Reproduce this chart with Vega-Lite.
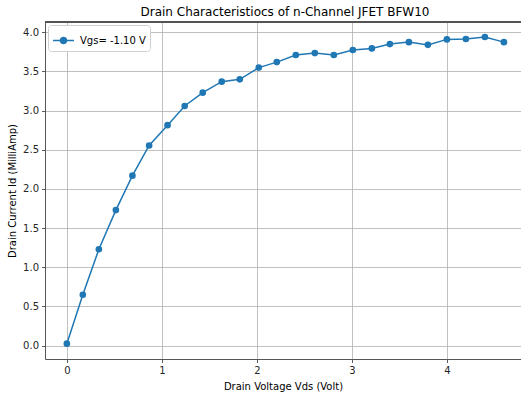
{
  "$schema": "https://vega.github.io/schema/vega-lite/v6.json",
  "width": 476,
  "height": 337,
  "autosize": {"type": "none"},
  "padding": {"left": 45, "top": 22, "right": 0, "bottom": 35},
  "background": "white",
  "title": {
    "text": "Drain Characteristiocs of n-Channel JFET BFW10",
    "font": "DejaVu Sans",
    "fontSize": 12,
    "fontWeight": "normal",
    "color": "#000000",
    "anchor": "middle",
    "dx": 2,
    "offset": 3
  },
  "config": {
    "view": {"stroke": null},
    "font": "DejaVu Sans",
    "axis": {
      "labelFont": "DejaVu Sans",
      "labelFontSize": 10,
      "labelColor": "#262626",
      "titleFont": "DejaVu Sans",
      "titleFontSize": 10,
      "titleFontWeight": "normal",
      "titleColor": "#000000",
      "domainColor": "#555555",
      "domainWidth": 1,
      "tickColor": "#333333",
      "tickSize": 3.5,
      "tickWidth": 0.8,
      "labelPadding": 3,
      "gridColor": "#b0b0b0",
      "gridWidth": 0.8,
      "gridOpacity": 1
    },
    "legend": {
      "labelFont": "DejaVu Sans",
      "labelFontSize": 10,
      "labelColor": "#000000",
      "strokeColor": "#d0d0d0",
      "fillColor": "#ffffff",
      "cornerRadius": 3,
      "padding": 4
    }
  },
  "data": {
    "values": [
      {"vds": 0.0, "id": 0.025, "series": "Vgs= -1.10 V"},
      {"vds": 0.168, "id": 0.65, "series": "Vgs= -1.10 V"},
      {"vds": 0.337, "id": 1.23, "series": "Vgs= -1.10 V"},
      {"vds": 0.516, "id": 1.73, "series": "Vgs= -1.10 V"},
      {"vds": 0.69, "id": 2.17, "series": "Vgs= -1.10 V"},
      {"vds": 0.866, "id": 2.555, "series": "Vgs= -1.10 V"},
      {"vds": 1.06, "id": 2.815, "series": "Vgs= -1.10 V"},
      {"vds": 1.24, "id": 3.06, "series": "Vgs= -1.10 V"},
      {"vds": 1.43, "id": 3.23, "series": "Vgs= -1.10 V"},
      {"vds": 1.63, "id": 3.37, "series": "Vgs= -1.10 V"},
      {"vds": 1.82, "id": 3.4, "series": "Vgs= -1.10 V"},
      {"vds": 2.02, "id": 3.55, "series": "Vgs= -1.10 V"},
      {"vds": 2.21, "id": 3.62, "series": "Vgs= -1.10 V"},
      {"vds": 2.41, "id": 3.71, "series": "Vgs= -1.10 V"},
      {"vds": 2.61, "id": 3.735, "series": "Vgs= -1.10 V"},
      {"vds": 2.81, "id": 3.71, "series": "Vgs= -1.10 V"},
      {"vds": 3.01, "id": 3.775, "series": "Vgs= -1.10 V"},
      {"vds": 3.21, "id": 3.795, "series": "Vgs= -1.10 V"},
      {"vds": 3.4, "id": 3.85, "series": "Vgs= -1.10 V"},
      {"vds": 3.6, "id": 3.875, "series": "Vgs= -1.10 V"},
      {"vds": 3.8, "id": 3.84, "series": "Vgs= -1.10 V"},
      {"vds": 4.0, "id": 3.91, "series": "Vgs= -1.10 V"},
      {"vds": 4.2, "id": 3.915, "series": "Vgs= -1.10 V"},
      {"vds": 4.4, "id": 3.94, "series": "Vgs= -1.10 V"},
      {"vds": 4.6, "id": 3.875, "series": "Vgs= -1.10 V"}
    ]
  },
  "layer": [
    {
      "mark": {
        "type": "line",
        "strokeWidth": 1.5,
        "point": {"filled": true, "size": 44, "opacity": 1}
      },
      "encoding": {
        "x": {
          "field": "vds",
          "type": "quantitative",
          "scale": {"domain": [-0.23, 4.78], "nice": false, "zero": false},
          "axis": {
            "title": "Drain Voltage Vds (Volt)",
            "values": [0, 1, 2, 3, 4],
            "format": "d",
            "titlePadding": 6
          }
        },
        "y": {
          "field": "id",
          "type": "quantitative",
          "scale": {"domain": [-0.171, 4.132], "nice": false, "zero": false},
          "axis": {
            "title": "Drain Current Id (MilliAmp)",
            "values": [0, 0.5, 1, 1.5, 2, 2.5, 3, 3.5, 4],
            "format": ".1f",
            "titlePadding": 5
          }
        },
        "color": {
          "field": "series",
          "type": "nominal",
          "scale": {"range": ["#1f77b4"]},
          "legend": {
            "title": null,
            "orient": "top-left",
            "offset": 3,
            "symbolType": "M-1,0H-0.29M0.29,0H1M0.29,0A0.29,0.29 0 1,1 -0.29,0A0.29,0.29 0 1,1 0.29,0Z",
            "symbolSize": 441,
            "symbolStrokeWidth": 1.5,
            "symbolFillColor": "#1f77b4",
            "symbolStrokeColor": "#1f77b4",
            "labelOffset": 5
          }
        }
      }
    },
    {
      "mark": {"type": "rule", "color": "#555555", "strokeWidth": 1},
      "encoding": {
        "y": {"datum": 4.132, "type": "quantitative"}
      }
    }
  ]
}
